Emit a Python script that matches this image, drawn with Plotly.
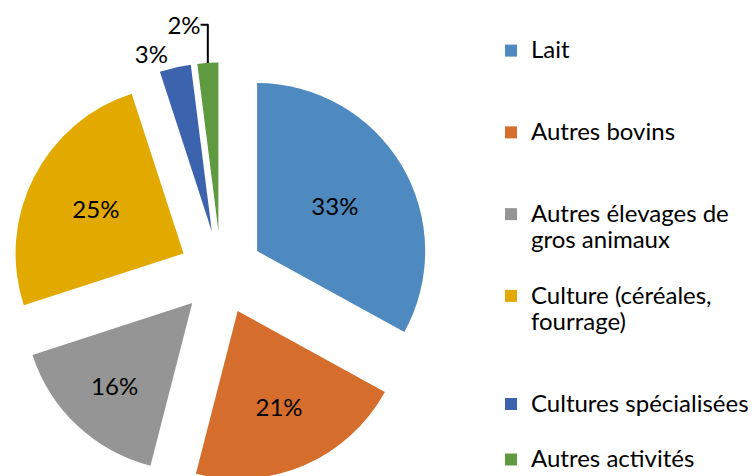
import plotly.graph_objects as go

labels = ["Lait", "Autres bovins", "Autres élevages de<br>gros animaux",
          "Culture (céréales,<br>fourrage)", "Cultures spécialisées", "Autres activités"]
values = [33, 21, 16, 25, 3, 2]
colors = ["#4E89BF", "#D56E2C", "#959595", "#E2AA00", "#3C63AD", "#5F9A40"]
text_positions = ["inside", "inside", "inside", "inside", "outside", "outside"]

# extra blank lines used to reproduce the spread-out legend spacing
legend_pad = [2, 2, 1, 2, 1, 0]
LEG_SPAN = '<span style="font-size:24px">{}</span>'
legend_labels = [
    "<br>".join(LEG_SPAN.format(part) for part in lab.split("<br>")) + "<br>\u00a0" * p
    for lab, p in zip(labels, legend_pad)
]

fig = go.Figure(go.Pie(
    labels=legend_labels,
    values=values,
    sort=False,
    direction="clockwise",
    rotation=0,
    pull=[0.25] * 6,
    marker=dict(colors=colors, line=dict(width=0)),
    textinfo="percent",
    texttemplate="%{percent:.0%}",
    textposition=text_positions,
    insidetextorientation="horizontal",
    textfont=dict(family="Lato", size=24, color="#000000"),
    outsidetextfont=dict(family="Lato", size=24, color="#000000"),
    domain=dict(x=[3 / 756, 423 / 756], y=[0, 1]),
    automargin=False,
))

fig.update_layout(
    width=756, height=476,
    margin=dict(l=0, r=0, t=53, b=0, autoexpand=False),
    paper_bgcolor="white",
    plot_bgcolor="white",
    font=dict(family="Lato", size=24, color="#000000"),
    legend=dict(x=483 / 756, xanchor="left", y=1.071, yanchor="top",
                valign="top", maxheight=1.0,
                font=dict(family="Lato", size=20.2, color="#000000"),
                bgcolor="rgba(0,0,0,0)"),
)

fig.write_html("out.html")
